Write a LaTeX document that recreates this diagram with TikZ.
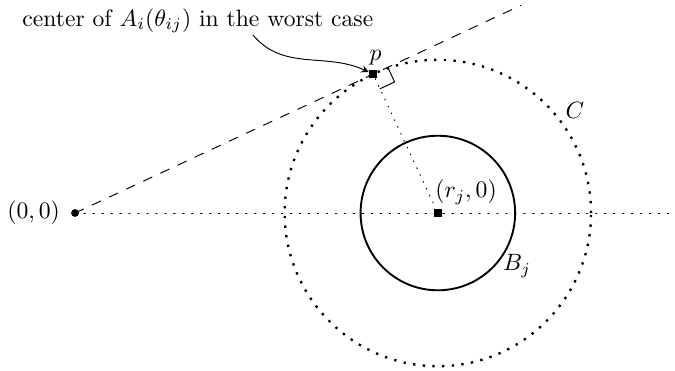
\documentclass[tikz,border=0pt]{standalone}
\usetikzlibrary{calc,positioning}
\tikzset{
	sq/.style={fill, inner sep=0pt, minimum size=3.4pt},
	pt/.style={circle, fill, inner sep=0pt, minimum size=3.3pt},
	axisdots/.style={dash pattern=on 0.6pt off 3.2pt},
	raydash/.style={dash pattern=on 4pt off 4pt},
	circdots/.style={line width=1pt, line cap=butt, dash pattern=on 1pt off 3.1pt}
}
\begin{document}
\begin{tikzpicture}[line join=round, line cap=round, >=stealth]
	\useasboundingbox (-1.116,-2.351) rectangle (8.929,3.170);
	\coordinate (O) at (0,0);
	\coordinate (Rj) at (5.4,0);
	\coordinate (rayend) at (24.97:7.32);
	\coordinate (from) at (2.649,2.649);
	\draw[axisdots] (O)--(8.9,0);
	\draw[raydash] (O)--(rayend);
	\draw[thick] (Rj) circle (1.15);
	\draw[circdots] (Rj) circle (2.28);
	\node[sq] (p) at (24.97:4.895) {};
	\node[sq] (r) at (Rj) {};
	\node[pt] (o) at (O) {};
	\draw[dash pattern=on 0.4pt off 2.8pt] (p)--(r);
	\draw[shift={(p)}, rotate=24.97] (0.24,0)--(0.24,-0.24)--(0,-0.24);
	% labels
	\node[left=1pt of o] (lo) {$(0,0)$};
	\node[above=-1.5pt of p, xshift=1pt] (lp) {$p$};
	\node[anchor=south west] (lr) at ($(Rj)+(-0.16,0)$) {$(r_j,0)$};
	\node (lb) at ($(Rj)+(1.18,-0.79)$) {$B_j$};
	\node (lc) at ($(Rj)+(2.04,1.52)$) {$C$};
	\node[anchor=base west, inner sep=0pt] (cap) at (-0.789,2.783) {center of $A_i(\theta_{ij})$ in the worst case};
	\draw[->] (from) to[out=-50, in=155] (p);
\end{tikzpicture}
\end{document}
